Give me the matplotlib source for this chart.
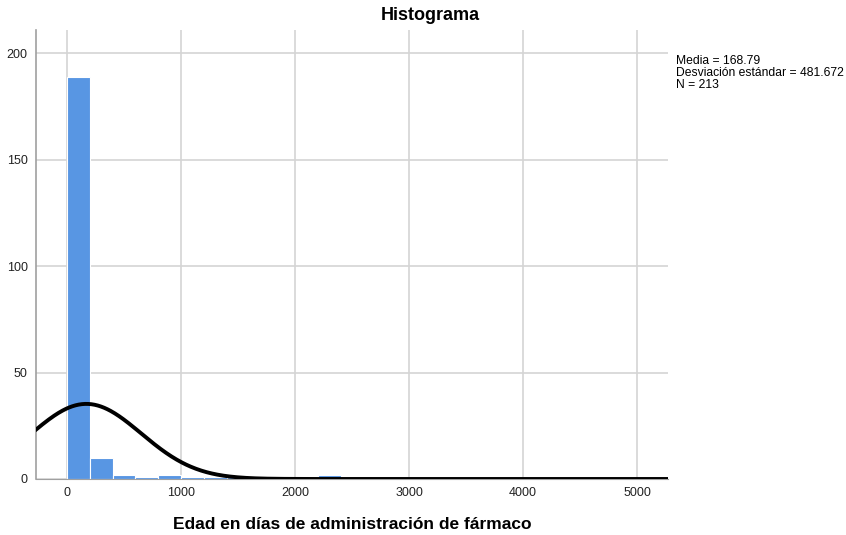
import numpy as np
import matplotlib.pyplot as plt

plt.rcParams['font.family'] = ['Liberation Sans', 'DejaVu Sans']

# histogram bins (width 200 days) and counts
bin_left = [0, 200, 400, 600, 800, 1000, 1200, 1400, 1800, 2200, 2400, 3000, 4000]
counts = [189, 10, 2, 1, 2, 1, 1, 1, 1, 2, 1, 1, 1]
bin_width = 200

mean = 168.79
std = 481.672
n = 213

fig = plt.figure(figsize=(8.46, 5.35), dpi=100)
ax = fig.add_axes([0.0426, 0.1047, 0.7470, 0.8393])

ax.bar(bin_left, counts, width=bin_width, align='edge', color='#5896E3',
       edgecolor='white', linewidth=0.8, zorder=2)

# fitted normal curve scaled to counts
xs = np.linspace(-300, 5300, 600)
ys = n * bin_width / (std * np.sqrt(2 * np.pi)) * np.exp(-0.5 * ((xs - mean) / std) ** 2)
ax.plot(xs, ys, color='black', linewidth=2.8, zorder=3)

ax.set_xlim(-272, 5272)
ax.set_ylim(0, 211)
ax.set_xticks([0, 1000, 2000, 3000, 4000, 5000])
ax.set_yticks([0, 50, 100, 150, 200])
ax.grid(True, color='#D4D4D4', linewidth=1.2, zorder=0)
ax.set_axisbelow(True)
ax.tick_params(length=0, labelsize=9, pad=6, colors='#222222')

for side in ('top', 'right'):
    ax.spines[side].set_visible(False)
ax.spines['left'].set_color('#A0A0A0')
ax.spines['left'].set_linewidth(1.2)
ax.spines['bottom'].set_color('#A0A0A0')

fig.text(0.509, 0.971, 'Histograma', fontsize=13, fontweight='bold',
         ha='center', va='center')
ax.set_xlabel('Edad en días de administración de fármaco', fontsize=12.5,
              fontweight='bold', labelpad=13)

fig.text(0.799, 0.897, f'Media = {mean}\nDesviación estándar = {std}\nN = {n}',
         fontsize=8.7, va='top', ha='left', linespacing=1.0)

fig.savefig('out.png', dpi=100, facecolor='white')
